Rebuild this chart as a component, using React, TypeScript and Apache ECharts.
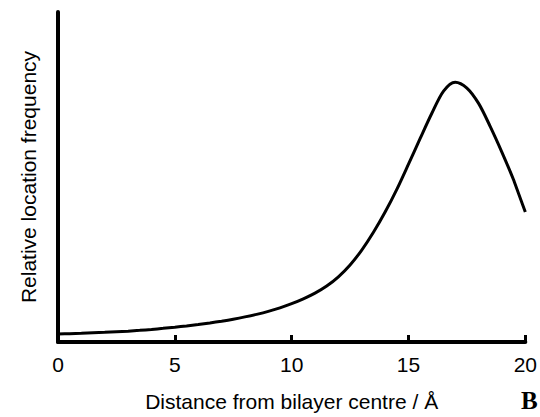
import React, { useEffect, useRef } from "react";
import * as echarts from "echarts";

const distances = [0, 0.5, 1, 1.5, 2, 2.5, 3, 3.5, 4, 4.5, 5, 5.5, 6, 6.5, 7, 7.5, 8, 8.5, 9, 9.5, 10, 10.5, 11, 11.5, 12, 12.5, 13, 13.5, 14, 14.5, 15, 15.5, 16, 16.5, 17, 17.5, 18, 18.5, 19, 19.5, 20];
const frequencies = [8, 8.4, 8.8, 9.3, 9.8, 10.4, 11, 11.8, 12.7, 13.8, 15, 16.3, 17.7, 19.3, 21.1, 23.1, 25.4, 28, 31, 34.6, 38.8, 43.7, 49.5, 56.7, 66, 78, 93, 111, 131.5, 154.5, 180, 206, 231.5, 254, 263, 257, 241.5, 218, 192, 164, 131.5];
const xTicks = [0, 5, 10, 15, 20];

const FONT = "'Liberation Sans', Arial, sans-serif";

export default function App() {
  const ref = useRef<HTMLDivElement>(null);
  useEffect(() => {
    if (!ref.current) return;
    const chart = echarts.init(ref.current, undefined, { renderer: "svg" });
    chart.setOption({
      animation: false,
      backgroundColor: "#ffffff",
      grid: { left: 58, right: 10, top: 12, bottom: 71.5, containLabel: false },
      xAxis: {
        type: "value",
        min: xTicks[0],
        max: xTicks[xTicks.length - 1],
        interval: 5,
        axisLine: { show: true, onZero: false, lineStyle: { color: "#000", width: 4 } },
        axisTick: { show: true, inside: true, length: 7, lineStyle: { color: "#000", width: 3 } },
        axisLabel: { color: "#000", fontSize: 21, fontFamily: FONT, margin: 12 },
        splitLine: { show: false },
        name: "Distance from bilayer centre / Å",
        nameLocation: "middle",
        nameGap: 49,
        nameTextStyle: { color: "#000", fontSize: 21, fontFamily: FONT },
      },
      yAxis: {
        type: "value",
        min: 0,
        max: 334,
        axisLine: { show: true, lineStyle: { color: "#000", width: 4 } },
        axisTick: { show: false },
        axisLabel: { show: false },
        splitLine: { show: false },
        name: "Relative location frequency",
        nameLocation: "middle",
        nameRotate: 90,
        nameGap: 19,
        nameTextStyle: { color: "#000", fontSize: 21, fontFamily: FONT },
      },
      series: [
        {
          type: "line",
          data: distances.map((d, i) => [d, frequencies[i]]),
          smooth: 0.3,
          showSymbol: false,
          lineStyle: { color: "#000", width: 3 },
        },
      ],
      graphic: [
        {
          type: "text",
          left: 521,
          top: 388,
          style: { text: "B", fontSize: 25, fontWeight: "bold", fontFamily: "'Liberation Serif', 'Times New Roman', serif", fill: "#000" },
        },
      ],
    });
    return () => chart.dispose();
  }, []);
  return (
    <div
      ref={ref}
      style={{ position: "fixed", left: 0, top: 0, width: 540, height: 417 }}
    />
  );
}
